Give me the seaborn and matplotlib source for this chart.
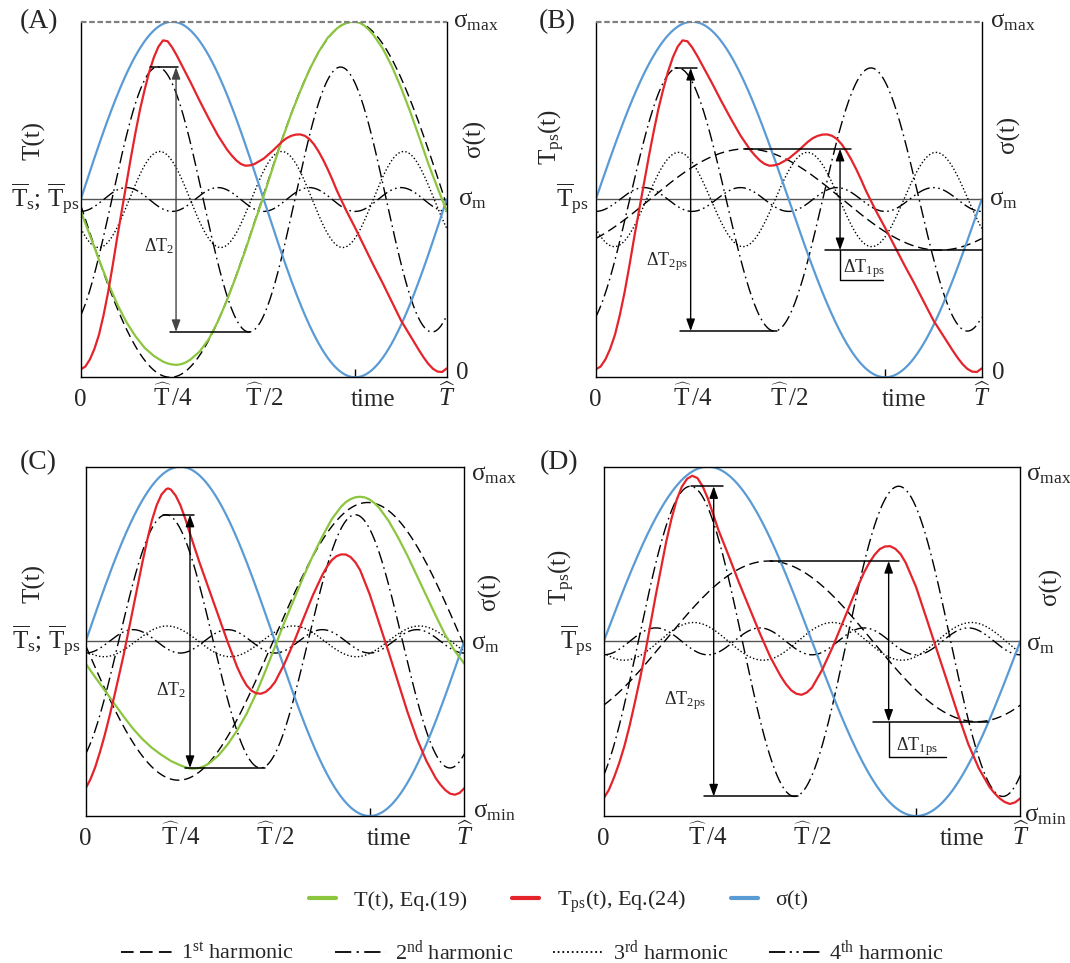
import numpy as np
import matplotlib
matplotlib.use("Agg")
import matplotlib.pyplot as plt
from matplotlib.lines import Line2D
import seaborn as sns

sns.set_theme(style="white")
plt.rcParams["font.family"] = ["Liberation Serif", "DejaVu Serif"]
plt.rcParams["mathtext.fontset"] = "custom"
plt.rcParams["mathtext.rm"] = "Liberation Serif"
plt.rcParams["mathtext.it"] = "Liberation Serif:italic"
plt.rcParams["mathtext.bf"] = "Liberation Serif:bold"

GREEN = "#8cc63f"
RED = "#e5232a"
BLUE = "#5b9bd5"

# ---------------------------------------------------------------- data
# stress signal: sigma(t) = sigma_m + sigma_amp * sin(2*pi*t), t in units of T^
sigma_amp = 1.0

# harmonic components: amplitude and time of the first crest (per panel)
amp_A = [1.0, 0.745, 0.27, 0.067]
crest_A = [0.745, 0.21, 0.216, 0.125]
amp_B = [0.285, 0.74, 0.265, 0.067]
crest_B = [0.39, 0.213, 0.215, 0.125]
amp_C = [0.795, 0.725, 0.088, 0.067]
crest_C = [0.745, 0.212, 0.215, 0.125]
amp_D = [0.46, 0.888, 0.108, 0.077]
crest_D = [0.396, 0.208, 0.216, 0.125]

# temperature responses relative to the mean (same scale as sigma)
t_Tps_AB = [0.0, 0.0125, 0.025, 0.0375, 0.05, 0.0625, 0.075, 0.0875, 0.1, 0.1125,
            0.125, 0.1375, 0.15, 0.1625, 0.175, 0.1875, 0.2, 0.2125, 0.225, 0.2375,
            0.25, 0.2625, 0.275, 0.3, 0.325, 0.35, 0.375, 0.4, 0.4125, 0.425,
            0.4375, 0.45, 0.4625, 0.475, 0.5, 0.525, 0.55, 0.5625, 0.575, 0.5875,
            0.6, 0.6125, 0.625, 0.6375, 0.65, 0.6625, 0.675, 0.6875, 0.7, 0.725,
            0.75, 0.775, 0.8, 0.825, 0.85, 0.875, 0.9, 0.925, 0.9375, 0.95,
            0.9625, 0.975, 0.9875, 1.0]
Tps_AB = [-0.955, -0.94, -0.90, -0.84, -0.76, -0.65, -0.52, -0.37, -0.21, -0.06,
          0.09, 0.24, 0.38, 0.51, 0.62, 0.72, 0.80, 0.86, 0.895, 0.89,
          0.855, 0.81, 0.76, 0.66, 0.555, 0.455, 0.36, 0.28, 0.248, 0.22,
          0.200, 0.19, 0.192, 0.20, 0.23, 0.275, 0.325, 0.345, 0.358, 0.365,
          0.366, 0.358, 0.34, 0.31, 0.27, 0.223, 0.17, 0.112, 0.05, -0.06,
          -0.16, -0.265, -0.37, -0.47, -0.575, -0.68, -0.765, -0.85, -0.89, -0.925,
          -0.952, -0.968, -0.97, -0.95]

t_T_A = [0.0, 0.025, 0.05, 0.075, 0.1, 0.125, 0.15, 0.175, 0.2, 0.225,
         0.2375, 0.25, 0.2625, 0.275, 0.2875, 0.3, 0.325, 0.35, 0.375, 0.4,
         0.425, 0.45, 0.475, 0.5, 0.525, 0.55, 0.575, 0.6, 0.625, 0.65,
         0.675, 0.7, 0.7125, 0.725, 0.7375, 0.75, 0.7625, 0.775, 0.7875, 0.8,
         0.825, 0.85, 0.875, 0.9, 0.925, 0.95, 0.975, 1.0]
T_A = [-0.065, -0.20, -0.34, -0.47, -0.59, -0.69, -0.77, -0.835, -0.88, -0.912,
       -0.922, -0.928, -0.93, -0.926, -0.916, -0.90, -0.855, -0.785, -0.685, -0.565,
       -0.43, -0.285, -0.13, 0.02, 0.18, 0.335, 0.48, 0.61, 0.73, 0.83,
       0.91, 0.962, 0.98, 0.992, 0.998, 1.0, 0.994, 0.978, 0.955, 0.925,
       0.85, 0.75, 0.63, 0.495, 0.35, 0.2, 0.065, -0.065]

t_T_C = [0.0, 0.025, 0.05, 0.075, 0.1, 0.125, 0.15, 0.175, 0.2, 0.225,
         0.25, 0.2625, 0.275, 0.2875, 0.3, 0.3125, 0.325, 0.35, 0.375, 0.4,
         0.425, 0.45, 0.475, 0.5, 0.525, 0.55, 0.575, 0.6, 0.625, 0.65,
         0.675, 0.6875, 0.7, 0.7125, 0.725, 0.7375, 0.75, 0.7625, 0.775, 0.8,
         0.825, 0.85, 0.875, 0.9, 0.925, 0.95, 0.975, 1.0]
T_C = [-0.128, -0.205, -0.28, -0.355, -0.43, -0.50, -0.56, -0.61, -0.65, -0.685,
       -0.71, -0.72, -0.728, -0.729, -0.725, -0.715, -0.70, -0.655, -0.59, -0.51,
       -0.415, -0.30, -0.168, -0.03, 0.11, 0.24, 0.37, 0.49, 0.60, 0.70,
       0.772, 0.798, 0.815, 0.825, 0.828, 0.824, 0.812, 0.792, 0.765, 0.69,
       0.595, 0.49, 0.375, 0.26, 0.145, 0.035, -0.055, -0.128]

t_Tps_C = [0.0, 0.0125, 0.025, 0.0375, 0.05, 0.0625, 0.075, 0.0875, 0.1, 0.125,
           0.15, 0.1625, 0.175, 0.1875, 0.2, 0.2125, 0.2175, 0.225, 0.2375, 0.25,
           0.2625, 0.275, 0.3, 0.325, 0.35, 0.375, 0.4, 0.4125, 0.425, 0.4375,
           0.45, 0.4625, 0.475, 0.4875, 0.5, 0.525, 0.55, 0.575, 0.6, 0.625,
           0.6375, 0.65, 0.6625, 0.675, 0.6875, 0.7, 0.7125, 0.725, 0.75, 0.775,
           0.8, 0.825, 0.85, 0.875, 0.9, 0.925, 0.9375, 0.95, 0.9625, 0.975,
           0.9875, 1.0]
Tps_C = [-0.841, -0.79, -0.721, -0.635, -0.539, -0.432, -0.319, -0.20, -0.080, 0.187,
         0.455, 0.58, 0.694, 0.78, 0.84, 0.871, 0.876, 0.869, 0.835, 0.780,
         0.705, 0.62, 0.455, 0.302, 0.149, -0.004, -0.147, -0.205, -0.252, -0.282,
         -0.297, -0.300, -0.290, -0.267, -0.233, -0.128, -0.004, 0.130, 0.264, 0.380,
         0.428, 0.465, 0.488, 0.498, 0.497, 0.482, 0.452, 0.407, 0.27, 0.105,
         -0.061, -0.233, -0.405, -0.558, -0.685, -0.785, -0.822, -0.852, -0.872, -0.878,
         -0.868, -0.841]

t_Tps_D = [0.0, 0.0125, 0.025, 0.0375, 0.05, 0.0625, 0.075, 0.0875, 0.1, 0.125,
           0.15, 0.1625, 0.175, 0.1875, 0.2, 0.2125, 0.225, 0.2375, 0.25, 0.2625,
           0.275, 0.3, 0.325, 0.35, 0.375, 0.4, 0.425, 0.4375, 0.45, 0.4625,
           0.475, 0.4875, 0.5, 0.525, 0.55, 0.575, 0.6, 0.625, 0.6375, 0.65,
           0.6625, 0.675, 0.6875, 0.7, 0.7125, 0.725, 0.75, 0.775, 0.8, 0.825,
           0.85, 0.875, 0.9, 0.925, 0.9375, 0.95, 0.9625, 0.975, 0.9875, 1.0]
Tps_D = [-0.899, -0.85, -0.778, -0.695, -0.597, -0.48, -0.348, -0.21, -0.061, 0.264,
         0.570, 0.70, 0.809, 0.885, 0.93, 0.948, 0.935, 0.888, 0.818, 0.73,
         0.64, 0.49, 0.335, 0.19, 0.045, -0.09, -0.20, -0.245, -0.28, -0.30,
         -0.306, -0.293, -0.265, -0.16, -0.03, 0.115, 0.26, 0.395, 0.45, 0.495,
         0.528, 0.543, 0.545, 0.53, 0.50, 0.45, 0.31, 0.13, -0.052, -0.233,
         -0.415, -0.587, -0.725, -0.830, -0.868, -0.898, -0.92, -0.931, -0.922, -0.899]

tick_labels = ["0", r"$\widehat{\mathrm{T}}\,/4$", r"$\widehat{\mathrm{T}}\,/2$", "time",
               r"$\widehat{T}$"]
legend_main = ["T(t), Eq.(19)", r"T$_{\mathrm{ps}}$(t), Eq.(24)", "σ(t)"]
legend_harm = [r"1$^{\mathrm{st}}$ harmonic", r"2$^{\mathrm{nd}}$ harmonic",
               r"3$^{\mathrm{rd}}$ harmonic", r"4$^{\mathrm{th}}$ harmonic"]

HARM_STYLES = [(0, (7, 3.5)), (0, (9, 3, 1.2, 3)), (0, (1, 1.6)),
               (0, (9, 2.5, 1.2, 2.5, 1.2, 2.5))]

# ---------------------------------------------------------------- figure
W, H = 1070, 963
fig = plt.figure(figsize=(W / 100, H / 100), dpi=100)


def axes_px(left, right, top, bottom):
    return fig.add_axes([left / W, 1 - bottom / H, (right - left) / W, (bottom - top) / H])


tt = np.linspace(0.0, 1.0, 801)


def label_px(ax, text, fx, fy, dx, dy, size=18, ha="left", va="baseline", rot=0):
    ax.annotate(text, xy=(fx, fy), xycoords="axes fraction", xytext=(dx, dy),
                textcoords="offset pixels", ha=ha, va=va, rotation=rot,
                fontsize=size, annotation_clip=False)


def draw_panel(ax, amps, crests, t_ps, tps, t_t, t_curve, time_pos, dashed_top):
    for n, (a, c) in enumerate(zip(amps, crests), start=1):
        sns.lineplot(x=tt, y=a * np.cos(2 * np.pi * n * (tt - c)), ax=ax, color="black",
                     linewidth=1.0, linestyle=HARM_STYLES[n - 1], errorbar=None)
    ax.axhline(0.0, color="#555555", lw=1.0, zorder=1)
    sns.lineplot(x=tt, y=sigma_amp * np.sin(2 * np.pi * tt), ax=ax, color=BLUE,
                 linewidth=1.6, errorbar=None)
    if t_curve is not None:
        sns.lineplot(x=t_t, y=t_curve, ax=ax, color=GREEN, linewidth=1.6, errorbar=None)
    sns.lineplot(x=t_ps, y=tps, ax=ax, color=RED, linewidth=1.6, errorbar=None)

    ax.set_xlim(0, 1)
    ax.set_ylim(-1, 1)
    ax.set_xlabel("")
    ax.set_ylabel("")
    ax.set_yticks([])
    ax.set_xticks([0, 0.25, 0.5, time_pos, 1.0])
    ax.set_xticklabels(tick_labels, fontsize=18)
    ax.tick_params(axis="x", which="major", length=0, pad=21, bottom=True)
    for lab in ax.get_xticklabels():
        lab.set_verticalalignment("baseline")
    ax.set_xticks([0.25, 0.5, 0.75], minor=True)
    ax.tick_params(axis="x", which="minor", direction="in", length=6, width=1.0,
                   color="black", bottom=True)
    for side in ["left", "right", "bottom", "top"]:
        ax.spines[side].set_color("black")
        ax.spines[side].set_linewidth(1.0)
    if dashed_top:
        ax.spines["top"].set_visible(False)
        ax.axhline(1.0, color="#808080", lw=1.6, ls=(0, (2.5, 1.2)), clip_on=False, zorder=5)


def double_arrow(ax, x, y_top, y_bot, color="black"):
    ax.annotate("", xy=(x, y_bot), xytext=(x, y_top),
                arrowprops=dict(arrowstyle="<|-|>,head_length=0.55,head_width=0.2",
                                color=color, lw=1.0, shrinkA=0, shrinkB=0,
                                mutation_scale=13))


def hline(ax, y, x0, x1):
    ax.plot([x0, x1], [y, y], color="black", lw=1.1)


axA = axes_px(80.7, 446.7, 21.7, 377.3)
axB = axes_px(595.7, 981.7, 21.7, 377.3)
axC = axes_px(85.7, 464.3, 466.7, 816.0)
axD = axes_px(603.7, 1020.3, 466.7, 816.0)

draw_panel(axA, amp_A, crest_A, t_Tps_AB, Tps_AB, t_T_A, T_A, 0.80, True)
draw_panel(axB, amp_B, crest_B, t_Tps_AB, Tps_AB, None, None, 0.80, True)
draw_panel(axC, amp_C, crest_C, t_Tps_C, Tps_C, t_T_C, T_C, 0.80, False)
draw_panel(axD, amp_D, crest_D, t_Tps_D, Tps_D, None, None, 0.86, False)

# ---------------------------------------------------------------- amplitude markers
# (A)
hline(axA, amp_A[1], 0.189, 0.267)
hline(axA, -amp_A[1], 0.244, 0.463)
double_arrow(axA, 0.2605, amp_A[1], -amp_A[1], color="#444444")
axA.text(0.173, -0.294, r"ΔT$_{2}$", fontsize=13, ha="left", va="baseline")
# (B)
hline(axB, amp_B[1], 0.2055, 0.2617)
hline(axB, -amp_B[1], 0.2185, 0.469)
double_arrow(axB, 0.246, amp_B[1], -amp_B[1])
axB.text(0.1295, -0.37, r"ΔT$_{\mathrm{2ps}}$", fontsize=13, ha="left", va="baseline")
hline(axB, amp_B[0], 0.387, 0.6615)
hline(axB, -amp_B[0], 0.594, 1.0)
double_arrow(axB, 0.633, amp_B[0], -amp_B[0])
axB.plot([0.633, 0.633, 0.7435], [-amp_B[0], -0.45, -0.45], color="black", lw=1.0)
axB.text(0.64, -0.41, r"ΔT$_{\mathrm{1ps}}$", fontsize=13, ha="left", va="baseline")
# (C)
hline(axC, amp_C[1], 0.205, 0.287)
hline(axC, -amp_C[1], 0.262, 0.474)
double_arrow(axC, 0.2755, amp_C[1], -amp_C[1])
axC.text(0.186, -0.31, r"ΔT$_{2}$", fontsize=13, ha="left", va="baseline")
# (D)
hline(axD, amp_D[1], 0.210, 0.286)
hline(axD, -amp_D[1], 0.241, 0.466)
double_arrow(axD, 0.264, amp_D[1], -amp_D[1])
axD.text(0.144, -0.358, r"ΔT$_{\mathrm{2ps}}$", fontsize=13, ha="left", va="baseline")
hline(axD, amp_D[0], 0.398, 0.710)
hline(axD, -amp_D[0], 0.646, 0.922)
double_arrow(axD, 0.684, amp_D[0], -amp_D[0])
axD.plot([0.684, 0.684, 0.821], [-amp_D[0], -0.66, -0.66], color="black", lw=1.0)
axD.text(0.701, -0.625, r"ΔT$_{\mathrm{1ps}}$", fontsize=13, ha="left", va="baseline")

# ---------------------------------------------------------------- panel texts
mean_both = r"$\overline{\mathrm{T}}_{\mathrm{s}}\mathrm{;}\,\overline{\mathrm{T}}_{\mathrm{ps}}$"
mean_ps = r"$\overline{\mathrm{T}}_{\mathrm{ps}}$"
panels = [
    # ax, tag, tag_dx, tag_dy, ylabel, ylab_dx, ylab_fy, mean, mean_dx,
    # smax_dx, smax_dy, st_dx, st_fy, sm_dx, sm_dy, low, low_dx, low_dy
    (axA, "(A)", -41.5, 0, "T(t)", -46.8, 0.665, mean_both, -1,
     6, -5.6, 27.5, 0.671, 11, -5.6, "0", 9, -2),
    (axB, "(B)", -38, 0, r"T$_{\mathrm{ps}}$(t)", -44, 0.676, mean_ps, -7,
     8.6, -5.6, 26.5, 0.684, 7, -5.6, "0", 10, -2),
    (axC, "(C)", -47.5, 3.8, "T(t)", -52, 0.665, mean_both, -4.5,
     7, -13.2, 24.8, 0.644, 7, -8, r"σ$_{\mathrm{min}}$", 9, -1),
    (axD, "(D)", -45, 3.8, r"T$_{\mathrm{ps}}$(t)", -42, 0.684, mean_ps, -11,
     6, -13.2, 30, 0.658, 6, -8.6, r"σ$_{\mathrm{min}}$", 4, -5.6),
]
for (ax, tag, tdx, tdy, ylab, ydx, yfy, mean, mdx, smx, smy, stx, sty,
     smdx, smdy, low, lowdx, lowdy) in panels:
    label_px(ax, tag, 0, 1, tdx, tdy, size=20, ha="center", va="center")
    label_px(ax, ylab, 0, yfy, ydx, 0, ha="center", va="center", rot=90)
    label_px(ax, mean, 0, 0.5, mdx, -8.3, ha="right")
    label_px(ax, r"σ$_{\mathrm{max}}$", 1, 1, smx, smy)
    label_px(ax, "σ(t)", 1, sty, stx, 0, ha="center", va="center", rot=90)
    label_px(ax, r"σ$_{\mathrm{m}}$", 1, 0.5, smdx, smdy)
    label_px(ax, low, 1, 0, lowdx, lowdy)

# ---------------------------------------------------------------- legends
main_handles = [Line2D([], [], color=GREEN, lw=3), Line2D([], [], color=RED, lw=3),
                Line2D([], [], color=BLUE, lw=3)]
harm_handles = [Line2D([], [], color="black", lw=1.3, linestyle=s) for s in HARM_STYLES]

fig.legend(main_handles, legend_main, loc="center", bbox_to_anchor=(558.7 / W, 1 - 901.7 / H),
           ncol=3, frameon=False, fontsize=16, handlelength=1.2, handletextpad=0.8,
           columnspacing=2.05, borderpad=0, borderaxespad=0)
fig.legend(harm_handles, legend_harm, loc="center", bbox_to_anchor=(532.5 / W, 1 - 951.7 / H),
           ncol=4, frameon=False, fontsize=16, handlelength=2.3, handletextpad=0.4,
           columnspacing=1.8, borderpad=0, borderaxespad=0)

fig.savefig("out.png", dpi=100)
